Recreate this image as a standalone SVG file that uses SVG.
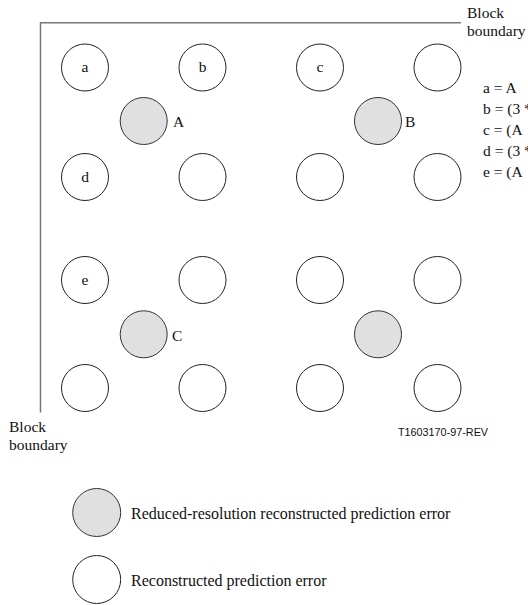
<svg xmlns="http://www.w3.org/2000/svg" width="528" height="605" viewBox="0 0 528 605">
<style>
.t{font-family:"Liberation Serif","Times New Roman",serif;font-size:15.5px;fill:#111}
.c{text-anchor:middle}
.o{fill:#fff;stroke:#222;stroke-width:1}
.g{fill:#e0e0e0;stroke:#333;stroke-width:1}
.b{stroke:#777;stroke-width:1.5;fill:none}
.s{font-family:"Liberation Sans",Arial,sans-serif;font-size:10.8px;fill:#111}
</style>
<rect width="528" height="605" fill="#fff"/>
<g id="boundary">
<path class="b" d="M40.5 22.7 H461 M40.5 22 V412.5"/>
<text class="t" x="467" y="18">Block</text>
<text class="t" x="467" y="36">boundary</text>
<text class="t" x="9" y="432">Block</text>
<text class="t" x="9" y="450">boundary</text>
</g>
<g id="connectors"></g>
<g id="n-a"><circle class="o" cx="85" cy="67.5" r="23.5"/><text class="t c" x="85" y="72">a</text></g>
<g id="n-b"><circle class="o" cx="202.5" cy="67.5" r="23.5"/><text class="t c" x="202.5" y="72">b</text></g>
<g id="n-c"><circle class="o" cx="320" cy="67.5" r="23.5"/><text class="t c" x="320" y="72">c</text></g>
<g id="n-r1c4"><circle class="o" cx="437.5" cy="67.5" r="23.5"/></g>
<g id="n-A"><circle class="g" cx="143.7" cy="121" r="23.5"/><text class="t" x="173" y="127">A</text></g>
<g id="n-B"><circle class="g" cx="378" cy="121" r="23.5"/><text class="t" x="405" y="127">B</text></g>
<g id="n-d"><circle class="o" cx="85" cy="177" r="23.5"/><text class="t c" x="85" y="181.5">d</text></g>
<g id="n-r2c2"><circle class="o" cx="202.5" cy="177" r="23.5"/></g>
<g id="n-r2c3"><circle class="o" cx="320" cy="177" r="23.5"/></g>
<g id="n-r2c4"><circle class="o" cx="437.5" cy="177" r="23.5"/></g>
<g id="n-e"><circle class="o" cx="85" cy="280" r="23.5"/><text class="t c" x="85" y="284.5">e</text></g>
<g id="n-r3c2"><circle class="o" cx="202.5" cy="280" r="23.5"/></g>
<g id="n-r3c3"><circle class="o" cx="320" cy="280" r="23.5"/></g>
<g id="n-r3c4"><circle class="o" cx="437.5" cy="280" r="23.5"/></g>
<g id="n-C"><circle class="g" cx="143.7" cy="334.3" r="23.5"/><text class="t" x="172" y="340.5">C</text></g>
<g id="n-D"><circle class="g" cx="378" cy="334.3" r="23.5"/></g>
<g id="n-r4c1"><circle class="o" cx="85" cy="388" r="23.5"/></g>
<g id="n-r4c2"><circle class="o" cx="202.5" cy="388" r="23.5"/></g>
<g id="n-r4c3"><circle class="o" cx="320" cy="388" r="23.5"/></g>
<g id="n-r4c4"><circle class="o" cx="437.5" cy="388" r="23.5"/></g>
<g id="equations">
<text class="t" x="483" y="93">a = A</text>
<text class="t" x="483" y="114">b = (3 *</text>
<text class="t" x="483" y="135">c = (A</text>
<text class="t" x="483" y="156">d = (3 *</text>
<text class="t" x="483" y="177">e = (A</text>
</g>
<text class="s" x="398" y="436">T1603170-97-REV</text>
<g id="legend-reduced"><circle class="g" cx="96.7" cy="512.5" r="24"/><text class="t" x="131" y="518.5" style="font-size:16px">Reduced-resolution reconstructed prediction error</text></g>
<g id="legend-full"><circle class="o" cx="96.7" cy="579.5" r="24"/><text class="t" x="131" y="585.5" style="font-size:16px">Reconstructed prediction error</text></g>
</svg>
